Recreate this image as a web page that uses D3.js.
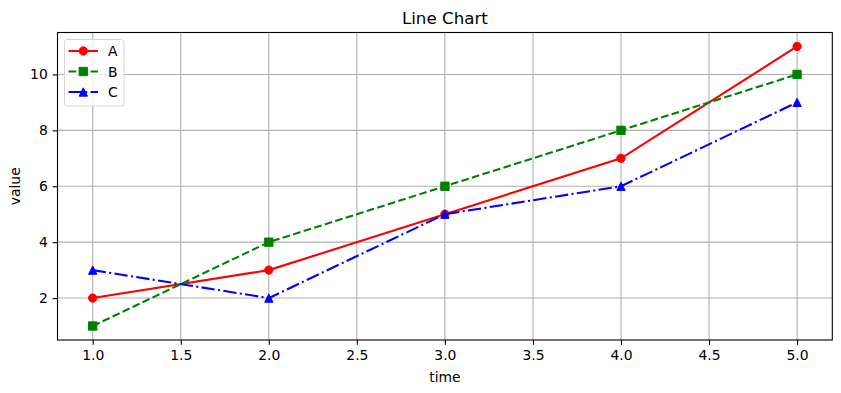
<!DOCTYPE html>
<html>
<head>
<meta charset="utf-8">
<script src="https://cdn.jsdelivr.net/npm/d3@7"></script>
<style>
  body { margin: 0; background: #fff; }
  text { font-family: "DejaVu Sans", sans-serif; }
</style>
</head>
<body>
<svg id="vis"></svg>
<script>
// DATOS------------------------------------------------------------------
const tiempos = [1, 2, 3, 4, 5];
const serieA = [2, 3, 5, 7, 11];
const serieB = [1, 4, 6, 8, 10];
const serieC = [3, 2, 5, 6, 9];
const nombres = ["A", "B", "C"];
const ticksX = [1.0, 1.5, 2.0, 2.5, 3.0, 3.5, 4.0, 4.5, 5.0];
const ticksY = [2, 4, 6, 8, 10];

// CONSTANTES-------------------------------------------------------------
const WIDTH = 841;
const HEIGHT = 393;
const MARGIN = { top: 32.5, bottom: 53, left: 57.5, right: 8.7 };
const HEIGHTVIS = HEIGHT - MARGIN.top - MARGIN.bottom;
const WIDTHVIS = WIDTH - MARGIN.left - MARGIN.right;
const LW = 2.08;
const MS = 8.33; // tamaño de marcador en px
const FUENTE = "13.9px";

const svg = d3.select("#vis").attr("width", WIDTH).attr("height", HEIGHT);
const contenedor = svg
  .append("g")
  .attr("transform", `translate(${MARGIN.left} ${MARGIN.top})`);

const escalaX = d3.scaleLinear().domain([0.8, 5.2]).range([0, WIDTHVIS]);
const escalaY = d3.scaleLinear().domain([0.5, 11.5]).range([HEIGHTVIS, 0]);

// MARCADORES (estilo matplotlib)------------------------------------------
function marcador(tipo) {
  const h = MS / 2;
  if (tipo === "o") {
    return d3.symbol().type(d3.symbolCircle).size(Math.PI * h * h)();
  }
  if (tipo === "s") {
    return `M${-h},${-h}H${h}V${h}H${-h}Z`;
  }
  return `M0,${-h}L${h},${h}L${-h},${h}Z`;
}

// GRILLA-----------------------------------------------------------------
contenedor
  .selectAll(".gx")
  .data(ticksX)
  .join("line")
  .attr("x1", (d) => escalaX(d))
  .attr("x2", (d) => escalaX(d))
  .attr("y1", 0)
  .attr("y2", HEIGHTVIS)
  .attr("stroke", "#b0b0b0")
  .attr("stroke-width", 1.1);
contenedor
  .selectAll(".gy")
  .data(ticksY)
  .join("line")
  .attr("y1", (d) => escalaY(d))
  .attr("y2", (d) => escalaY(d))
  .attr("x1", 0)
  .attr("x2", WIDTHVIS)
  .attr("stroke", "#b0b0b0")
  .attr("stroke-width", 1.1);

// EJES-------------------------------------------------------------------
const ejeX = d3
  .axisBottom(escalaX)
  .tickValues(ticksX)
  .tickFormat(d3.format(".1f"))
  .tickSize(4.86)
  .tickPadding(4.86);
const ejeY = d3
  .axisLeft(escalaY)
  .tickValues(ticksY)
  .tickFormat(d3.format("d"))
  .tickSize(4.86)
  .tickPadding(4.86);

const gx = contenedor
  .append("g")
  .attr("transform", `translate(0, ${HEIGHTVIS})`)
  .call(ejeX);
const gy = contenedor.append("g").call(ejeY);
[gx, gy].forEach((g) => {
  g.select(".domain").remove();
  g.selectAll("line").attr("stroke", "#000").attr("stroke-width", 1.1);
  g.selectAll("text")
    .attr("fill", "#000")
    .style("font-size", FUENTE)
    .style("font-family", "DejaVu Sans");
});

contenedor
  .append("rect")
  .attr("width", WIDTHVIS)
  .attr("height", HEIGHTVIS)
  .attr("fill", "none")
  .attr("stroke", "#000")
  .attr("stroke-width", 1.1);

// TEXTOS-----------------------------------------------------------------
svg
  .append("text")
  .attr("x", MARGIN.left + WIDTHVIS / 2)
  .attr("y", 23.7)
  .attr("text-anchor", "middle")
  .style("font-size", "16.7px")
  .text("Line Chart");
svg
  .append("text")
  .attr("x", MARGIN.left + WIDTHVIS / 2)
  .attr("y", 381.5)
  .attr("text-anchor", "middle")
  .style("font-size", FUENTE)
  .text("time");
svg
  .append("text")
  .attr("transform", `translate(20 ${MARGIN.top + HEIGHTVIS / 2}) rotate(-90)`)
  .attr("text-anchor", "middle")
  .style("font-size", FUENTE)
  .text("value");

// SERIES-----------------------------------------------------------------
const series = [
  { nombre: nombres[0], valores: serieA, color: "red", dash: null, marca: "o" },
  { nombre: nombres[1], valores: serieB, color: "green", dash: "7.7,3.33", marca: "s" },
  { nombre: nombres[2], valores: serieC, color: "blue", dash: "13.3,3.33,2.08,3.33", marca: "^" },
];

const linea = d3
  .line()
  .x((d, i) => escalaX(tiempos[i]))
  .y((d) => escalaY(d));

series.forEach((s) => {
  contenedor
    .append("path")
    .datum(s.valores)
    .attr("d", linea)
    .attr("fill", "none")
    .attr("stroke", s.color)
    .attr("stroke-width", LW)
    .attr("stroke-dasharray", s.dash);
  contenedor
    .selectAll(null)
    .data(s.valores)
    .join("path")
    .attr("d", marcador(s.marca))
    .attr("transform", (d, i) => `translate(${escalaX(tiempos[i])}, ${escalaY(d)})`)
    .attr("fill", s.color)
    .attr("stroke", s.color)
    .attr("stroke-width", 1);
});

// LEYENDA----------------------------------------------------------------
const leyenda = svg.append("g").attr("transform", "translate(64.5 39.5)");
leyenda
  .append("rect")
  .attr("width", 59.5)
  .attr("height", 66.5)
  .attr("rx", 2.5)
  .attr("fill", "rgba(255,255,255,0.8)")
  .attr("stroke", "#d6d6d6")
  .attr("stroke-width", 1);
series.forEach((s, i) => {
  const y = 11.5 + i * 20.5;
  leyenda
    .append("line")
    .attr("x1", 4)
    .attr("x2", 33.5)
    .attr("y1", y)
    .attr("y2", y)
    .attr("stroke", s.color)
    .attr("stroke-width", LW)
    .attr("stroke-dasharray", s.dash);
  leyenda
    .append("path")
    .attr("d", marcador(s.marca))
    .attr("transform", `translate(18.8, ${y})`)
    .attr("fill", s.color)
    .attr("stroke", s.color)
    .attr("stroke-width", 1);
  leyenda
    .append("text")
    .attr("x", 43.5)
    .attr("y", y + 5)
    .style("font-size", FUENTE)
    .text(s.nombre);
});
</script>
</body>
</html>
